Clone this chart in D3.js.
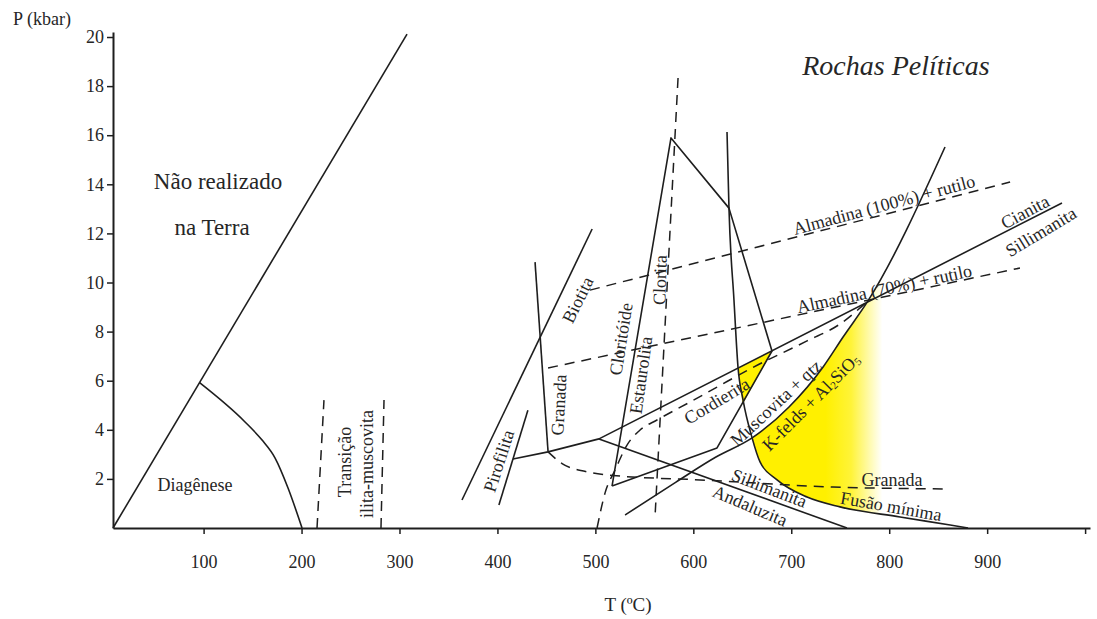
<!DOCTYPE html>
<html>
<head>
<meta charset="utf-8">
<script src="https://cdn.jsdelivr.net/npm/d3@7"></script>
<style>
  html, body { margin: 0; padding: 0; background: #ffffff; }
  svg { display: block; }
</style>
</head>
<body>
<svg id="grade" width="1097" height="619"></svg>
<script>
// ---- Eixos: temperatura (ºC) e pressão (kbar) ----
const ticksT = [100, 200, 300, 400, 500, 600, 700, 800, 900, 1000];
const rotulosT = ["100", "200", "300", "400", "500", "600", "700", "800", "900", ""];
const ticksP = [2, 4, 6, 8, 10, 12, 14, 16, 18, 20];

// ---- Curvas da grade petrogenética: pares [T (ºC), P (kbar)] ----
const limiteTerra      = [[7.5, 0], [307.7, 20.12]];
const diagenese        = [[95.9, 5.92], [142.3, 4.32], [159.7, 3.58], [173.0, 2.85], [186.2, 1.63], [200.5, 0]];
const transicaoInicio  = [[215.8, 0], [222.9, 5.21]];
const transicaoFim     = [[281.1, 0], [284.2, 5.21]];
const biotitaLinha     = [[363.8, 1.14], [496.7, 12.18]];
const pirofilitaLinha  = [[401.5, 0.94], [431.1, 4.80]];
const granadaLinha     = [[438.4, 10.83], [451.7, 3.10]];
const cianitaSillim    = [[415.9, 2.81], [451.7, 3.10], [503.7, 3.63], [976.4, 13.24]];
const andaluzitaSillim = [[503.7, 3.63], [756.9, 0]];
const estaurolitaCampo = [[517.0, 1.71], [624.2, 3.26], [680.3, 7.21], [636.4, 13.03], [577.2, 15.89], [517.0, 1.71]];
const fusaoMinima      = [[634.4, 16.13], [636.4, 13.03], [641.5, 9.29], [645.6, 6.56], [650.8, 5.21], [660.0, 3.67],
                          [668.1, 2.69], [685.5, 1.96], [716.1, 1.26], [749.8, 0.86], [811.1, 0.45], [862.2, 0.12], [880.5, 0]];
const muscovitaQtz     = [[530.3, 0.53], [582.3, 1.87], [623.1, 2.89], [660.0, 3.67], [697.7, 4.93], [732.5, 6.56],
                          [752.9, 7.78], [778.3, 9.25], [857.0, 15.52]];

// Curvas tracejadas
const cloritaTrac      = [[584.4, 18.33], [561.0, 0.53]];
const almadina100      = [[494.5, 9.69], [923.4, 14.09]];
const almadina70       = [[451.7, 6.52], [933.5, 10.59]];
const granadaTrac      = [[451.7, 3.10], [466.0, 2.62], [490.0, 2.30], [518.0, 2.14], [606.8, 1.96], [742.6, 1.67], [859.0, 1.59]];
const cordieritaTrac   = [[501.7, 0], [509.9, 1.43], [520.1, 2.36], [532.3, 3.38], [545.6, 3.99], [562.9, 4.40],
                          [596.6, 5.13], [624.2, 5.74], [657.9, 6.48], [716.1, 7.62], [749.8, 8.31], [778.3, 9.25]];

// Pequeno campo da cordierita (amarelo)
const campoCordierita  = [[645.6, 6.52], [680.3, 7.21], [650.3, 5.03]];

// ---- Rótulos: texto, T, P, rotação, tamanho ----
const rotulos = [
  { t: "Não realizado", T: 114.7, P: 14.13, rot: 0, size: 23 },
  { t: "na Terra", T: 108.6, P: 12.25, rot: 0, size: 23 },
  { t: "Diagênese", T: 91.3, P: 1.75, rot: 0, size: 18 },
  { t: "Transição", T: 244.4, P: 2.69, rot: -90, size: 18 },
  { t: "ilita-muscovita", T: 266.9, P: 2.61, rot: -90, size: 18 },
  { t: "Pirofilita", T: 401.6, P: 2.73, rot: -72, size: 18 },
  { t: "Biotita", T: 482.2, P: 9.29, rot: -64, size: 18 },
  { t: "Granada", T: 462.8, P: 5.01, rot: -87, size: 18 },
  { t: "Cloritóide", T: 526.2, P: 7.70, rot: -81, size: 18 },
  { t: "Estaurolita", T: 546.6, P: 6.23, rot: -82, size: 18 },
  { t: "Clorita", T: 566.0, P: 10.1, rot: -88, size: 18 },
  { t: "Cordierita", T: 624.0, P: 5.17, rot: -31, size: 18 },
  { t: "Muscovita + qtz", T: 684.4, P: 5.09, rot: -43, size: 18 },
  { t: "Sillimanita", T: 677.5, P: 1.62, rot: 21, size: 18 },
  { t: "Andaluzita", T: 657.9, P: 0.90, rot: 23, size: 18 },
  { t: "Granada", T: 802.9, P: 1.96, rot: 0, size: 18 },
  { t: "Fusão mínima", T: 801.9, P: 0.88, rot: 10, size: 18 },
  { t: "Almadina (100%) + rutilo", T: 794.7, P: 13.16, rot: -15, size: 18 },
  { t: "Almadina (70%) + rutilo", T: 795.0, P: 9.74, rot: -12, size: 18 },
  { t: "Cianita", T: 938.7, P: 12.87, rot: -28, size: 18 },
  { t: "Sillimanita", T: 955.0, P: 12.06, rot: -31, size: 18 }
];

// ---- Montagem ----
const fonteSerif = "'Liberation Serif', 'Times New Roman', Times, serif";
const svg = d3.select("#grade").style("font-family", fonteSerif);

const x = d3.scaleLinear().domain([7.5, 1005]).range([113, 1090]);
const y = d3.scaleLinear().domain([0, 20.2]).range([528, 32.1]);

const reta = d3.line().x(d => x(d[0])).y(d => y(d[1]));
const curva = d3.line().x(d => x(d[0])).y(d => y(d[1])).curve(d3.curveMonotoneX);

function rotulo(sel) {
  return sel.style("font-family", fonteSerif).attr("fill", "#262626");
}

// Degradê do campo de fusão
const defs = svg.append("defs");
const grad = defs.append("linearGradient")
  .attr("id", "degradeFusao")
  .attr("gradientUnits", "userSpaceOnUse")
  .attr("x1", x(735)).attr("y1", 0)
  .attr("x2", x(793)).attr("y2", 0);
grad.append("stop").attr("offset", 0).attr("stop-color", "#fff000").attr("stop-opacity", 1);
grad.append("stop").attr("offset", 0.45).attr("stop-color", "#fff000").attr("stop-opacity", 0.78);
grad.append("stop").attr("offset", 1).attr("stop-color", "#fff000").attr("stop-opacity", 0);

// Campo K-felds + Al2SiO5: à direita da reação da muscovita e acima da fusão mínima
const iJunc = muscovitaQtz.findIndex(d => d[0] === 660.0);
const jJunc = fusaoMinima.findIndex(d => d[0] === 660.0);
const ramoMusc = muscovitaQtz.slice(iJunc);
const ramoFusao = fusaoMinima.slice(jJunc).reverse();
const topo = ramoMusc[ramoMusc.length - 1];
const caminhoCampo = curva(ramoMusc)
  + "L" + x(1005) + "," + y(topo[1])
  + "L" + x(1005) + "," + y(0)
  + curva(ramoFusao).replace(/^M/, "L") + "Z";
svg.append("path")
  .attr("d", caminhoCampo)
  .attr("fill", "url(#degradeFusao)")
  .attr("stroke", "none");

svg.append("path")
  .attr("d", reta(campoCordierita) + "Z")
  .attr("fill", "#fff000")
  .attr("stroke", "none");

// Linhas contínuas
const g = svg.append("g")
  .attr("fill", "none")
  .attr("stroke", "#1e1e1e")
  .attr("stroke-width", 1.6)
  .attr("stroke-linejoin", "round");

[limiteTerra, biotitaLinha, pirofilitaLinha, granadaLinha, cianitaSillim, andaluzitaSillim, estaurolitaCampo]
  .forEach(d => g.append("path").attr("d", reta(d)));
[diagenese, fusaoMinima, muscovitaQtz].forEach(d => g.append("path").attr("d", curva(d)));

// Linhas tracejadas
const gt = svg.append("g")
  .attr("fill", "none")
  .attr("stroke", "#1e1e1e")
  .attr("stroke-width", 1.5)
  .attr("stroke-dasharray", "10,7");
[transicaoInicio, transicaoFim, cloritaTrac, almadina100, almadina70].forEach(d => gt.append("path").attr("d", reta(d)));
[granadaTrac, cordieritaTrac].forEach(d => gt.append("path").attr("d", curva(d)));

// Rótulos dos campos e reações
const gr = svg.append("g");
rotulos.forEach(r => {
  rotulo(gr.append("text"))
    .attr("transform", `translate(${x(r.T)},${y(r.P)}) rotate(${r.rot})`)
    .attr("text-anchor", "middle")
    .attr("dominant-baseline", "central")
    .style("font-size", r.size + "px")
    .text(r.t);
});

// K-felds + Al2SiO5 com índices
const kf = rotulo(gr.append("text"))
  .attr("transform", `translate(${x(720.1)},${y(5.13)}) rotate(-45)`)
  .attr("text-anchor", "middle")
  .attr("dominant-baseline", "central")
  .style("font-size", "18px");
kf.append("tspan").text("K-felds + Al");
kf.append("tspan").attr("dy", 4).style("font-size", "11px").text("2");
kf.append("tspan").attr("dy", -4).text("SiO");
kf.append("tspan").attr("dy", 4).style("font-size", "11px").text("5");

// Título
rotulo(svg.append("text"))
  .attr("x", x(806.9)).attr("y", y(18.82))
  .attr("text-anchor", "middle")
  .attr("dominant-baseline", "central")
  .style("font-size", "28px")
  .style("font-style", "italic")
  .text("Rochas Pelíticas");

// Eixos
const eixoX = svg.append("g")
  .attr("transform", `translate(0,${y(0)})`)
  .call(d3.axisBottom(x).tickValues(ticksT).tickSize(6).tickSizeOuter(0)
    .tickFormat((d, i) => rotulosT[i]));
const eixoY = svg.append("g")
  .attr("transform", `translate(${x(7.5)},0)`)
  .call(d3.axisLeft(y).tickValues(ticksP).tickSize(6).tickSizeOuter(0));

[eixoX, eixoY].forEach(e => {
  e.attr("font-family", null);
  e.select(".domain").attr("stroke", "#1e1e1e").attr("stroke-width", 2);
  e.selectAll(".tick line").attr("stroke", "#1e1e1e").attr("stroke-width", 1.5);
  rotulo(e.selectAll(".tick text")).style("font-size", "18px");
});
eixoX.selectAll(".tick text").attr("dy", null).attr("y", 40);
eixoY.selectAll(".tick text").attr("x", -9);

// Títulos dos eixos
rotulo(svg.append("text"))
  .attr("x", 42).attr("y", 19)
  .attr("text-anchor", "middle")
  .attr("dominant-baseline", "central")
  .style("font-size", "18px")
  .text("P (kbar)");
rotulo(svg.append("text"))
  .attr("x", 628).attr("y", 604)
  .attr("text-anchor", "middle")
  .attr("dominant-baseline", "central")
  .style("font-size", "19px")
  .text("T (ºC)");
</script>
</body>
</html>
